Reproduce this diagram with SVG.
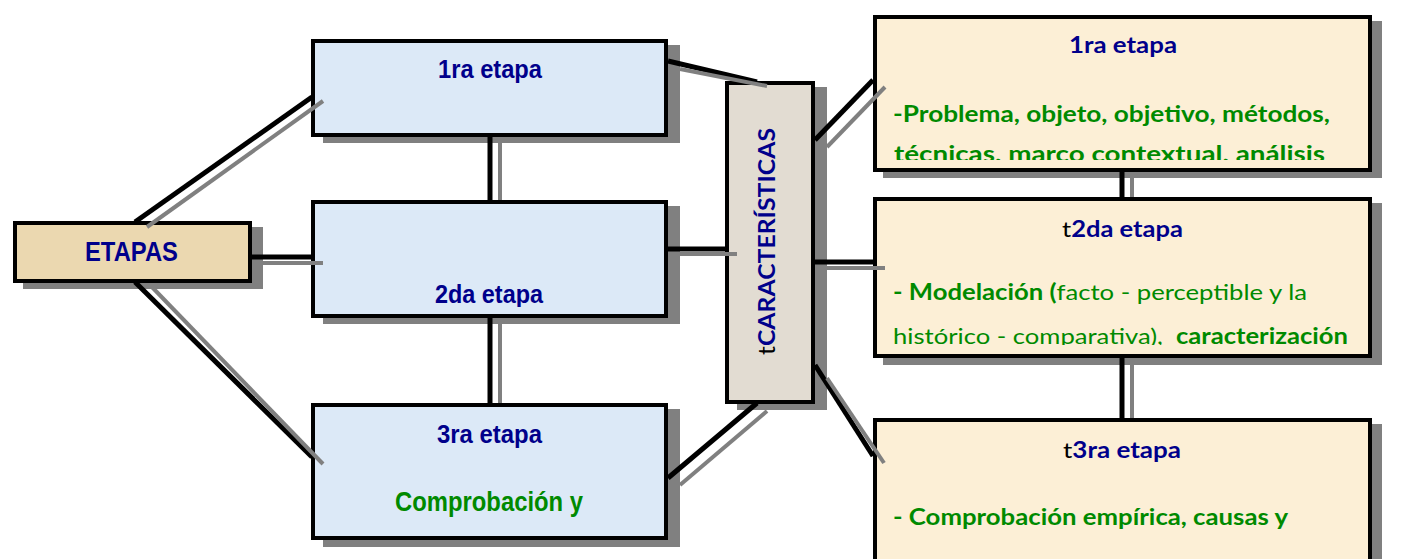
<svg xmlns="http://www.w3.org/2000/svg" width="1418" height="559" viewBox="0 0 1418 559">
<style>
.box{stroke:#000;stroke-width:4}
.sh{fill:#808080}
.blue{fill:#dce9f7}
.cream{fill:#fcefd6}
.tan{fill:#ebd8b0}
.stone{fill:#e2dcd2}
.ar{font-family:"Liberation Sans",Arial,sans-serif;font-weight:bold}
.ca{font-family:Lato,"Open Sans",sans-serif}
.nv{fill:#00008b}
.gr{fill:#008a00}
.k{fill:#000;font-weight:normal}
.b{font-weight:bold}
.n{font-weight:normal}
.bk{stroke:#000;stroke-width:5;fill:none}
.gy{stroke:#808080;stroke-width:4;fill:none}
</style>
<defs>
<clipPath id="cB1"><rect x="315" y="43" width="349" height="90"/></clipPath>
<clipPath id="cB2"><rect x="315" y="204" width="349" height="103"/></clipPath>
<clipPath id="cB3"><rect x="315" y="407" width="349" height="129"/></clipPath>
<clipPath id="cR1"><rect x="877" y="19" width="491" height="141"/></clipPath>
<clipPath id="cR2"><rect x="877" y="201" width="491" height="144"/></clipPath>
<clipPath id="cR3"><rect x="877" y="422" width="491" height="137"/></clipPath>
</defs>

<g id="etapas">
<rect class="sh" x="23" y="227" width="240" height="62"/>
<rect class="box tan" x="15" y="223" width="235" height="58"/>
<text class="ar nv" x="131.5" y="261" font-size="28" text-anchor="middle" textLength="93" lengthAdjust="spacingAndGlyphs">ETAPAS</text>
</g>

<g id="etapa1">
<rect class="sh" x="323" y="45" width="357" height="98"/>
<rect class="box blue" x="313" y="41" width="353" height="94"/>
<g clip-path="url(#cB1)">
<text class="ar nv" x="490" y="77.5" font-size="25" text-anchor="middle" textLength="104" lengthAdjust="spacingAndGlyphs">1ra etapa</text>
</g>
</g>

<g id="etapa2">
<rect class="sh" x="323" y="206" width="357" height="118"/>
<rect class="box blue" x="313" y="202" width="353" height="114"/>
<g clip-path="url(#cB2)">
<text class="ar nv" x="489" y="303" font-size="25" text-anchor="middle" textLength="108" lengthAdjust="spacingAndGlyphs">2da etapa</text>
</g>
</g>

<g id="etapa3">
<rect class="sh" x="323" y="409" width="357" height="138"/>
<rect class="box blue" x="313" y="405" width="353" height="133"/>
<g clip-path="url(#cB3)">
<text class="ar nv" x="489.5" y="443" font-size="25" text-anchor="middle" textLength="105" lengthAdjust="spacingAndGlyphs">3ra etapa</text>
<text class="ar gr" x="489" y="511" font-size="28" text-anchor="middle" textLength="188" lengthAdjust="spacingAndGlyphs">Comprobación y</text>
</g>
</g>

<g id="caracteristicas">
<rect class="sh" x="737" y="87" width="90" height="323"/>
<rect class="box stone" x="727" y="83" width="86" height="319"/>
<text class="ca b nv" transform="translate(775,241.5) rotate(-90)" font-size="23.5" text-anchor="middle" textLength="227" lengthAdjust="spacingAndGlyphs"><tspan class="k">t</tspan>CARACTERÍSTICAS</text>
</g>

<g id="car1">
<rect class="sh" x="883" y="21" width="499" height="157"/>
<rect class="box cream" x="875" y="17" width="495" height="153"/>
<g clip-path="url(#cR1)">
<text class="ca b nv" x="1123" y="53" font-size="22" text-anchor="middle" textLength="108" lengthAdjust="spacingAndGlyphs">1ra etapa</text>
<text class="ca b gr" x="893" y="122" font-size="22" textLength="437" lengthAdjust="spacingAndGlyphs">-Problema, objeto, objetivo, métodos,</text>
<text class="ca b gr" x="894" y="162" font-size="22" textLength="431" lengthAdjust="spacingAndGlyphs">técnicas, marco contextual, análisis</text>
</g>
</g>

<g id="car2">
<rect class="sh" x="883" y="203" width="499" height="162"/>
<rect class="box cream" x="875" y="199" width="495" height="157"/>
<g clip-path="url(#cR2)">
<text class="ca b nv" x="1122.5" y="237" font-size="22" text-anchor="middle" textLength="121" lengthAdjust="spacingAndGlyphs"><tspan class="k">t</tspan>2da etapa</text>
<text class="ca gr" x="893" y="300" font-size="22" textLength="414" lengthAdjust="spacingAndGlyphs"><tspan class="b">- Modelación (</tspan><tspan class="n">facto - perceptible y la</tspan></text>
<text class="ca gr" x="893" y="344" font-size="22" textLength="455" lengthAdjust="spacingAndGlyphs" xml:space="preserve"><tspan class="n">histórico - comparativa),  </tspan><tspan class="b">caracterización</tspan></text>
</g>
</g>

<g id="car3">
<rect class="sh" x="883" y="424" width="499" height="150"/>
<rect class="box cream" x="875" y="420" width="495" height="150"/>
<g clip-path="url(#cR3)">
<text class="ca b nv" x="1122" y="458" font-size="22" text-anchor="middle" textLength="118" lengthAdjust="spacingAndGlyphs"><tspan class="k">t</tspan>3ra etapa</text>
<text class="ca b gr" x="893" y="525" font-size="22" textLength="395" lengthAdjust="spacingAndGlyphs">- Comprobación empírica, causas y</text>
</g>
</g>

<g id="connectors">
<line class="bk" x1="135" y1="222" x2="312" y2="97"/>
<line class="gy" x1="147" y1="227" x2="323" y2="101"/>
<line class="bk" x1="252" y1="257" x2="312" y2="257"/>
<line class="gy" x1="263" y1="263" x2="323" y2="263"/>
<line class="bk" x1="135" y1="282" x2="312" y2="457"/>
<line class="gy" x1="150" y1="285" x2="323" y2="464"/>
<line class="bk" x1="490" y1="137" x2="490" y2="200" stroke-width="6"/>
<line class="gy" x1="500" y1="143" x2="500" y2="200" stroke-width="5"/>
<line class="bk" x1="490" y1="318" x2="490" y2="403" stroke-width="6"/>
<line class="gy" x1="500" y1="324" x2="500" y2="403" stroke-width="5"/>
<line class="bk" x1="668" y1="61" x2="757" y2="82"/>
<line class="gy" x1="680" y1="69" x2="767" y2="86"/>
<line class="bk" x1="668" y1="249" x2="725" y2="249"/>
<line class="gy" x1="680" y1="254" x2="737" y2="254"/>
<line class="bk" x1="668" y1="478" x2="757" y2="403"/>
<line class="gy" x1="680" y1="485" x2="767" y2="411"/>
<line class="bk" x1="815" y1="140" x2="873" y2="80"/>
<line class="gy" x1="827" y1="147" x2="885" y2="87"/>
<line class="bk" x1="815" y1="262" x2="873" y2="262"/>
<line class="gy" x1="827" y1="268" x2="885" y2="268"/>
<line class="bk" x1="815" y1="365" x2="873" y2="456"/>
<line class="gy" x1="827" y1="378" x2="884" y2="463"/>
<line class="bk" x1="1122" y1="172" x2="1122" y2="197"/>
<line class="gy" x1="1132" y1="178" x2="1132" y2="197"/>
<line class="bk" x1="1122" y1="358" x2="1122" y2="418"/>
<line class="gy" x1="1132" y1="365" x2="1132" y2="418"/>
</g>
</svg>
